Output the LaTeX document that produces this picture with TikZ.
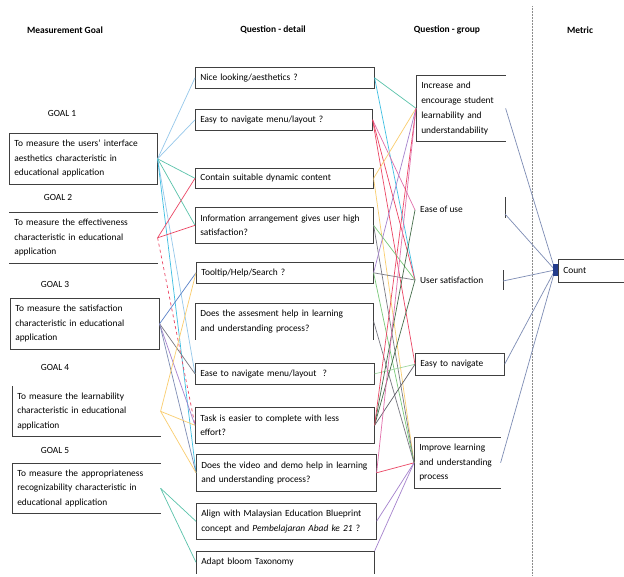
\documentclass[tikz,border=0pt]{standalone}
\usepackage{fontspec}
\setmainfont{Carlito}
\usetikzlibrary{calc}
\definecolor{clblue}{RGB}{150,200,235}
\definecolor{ccyan}{RGB}{60,190,225}
\definecolor{cteal}{RGB}{90,195,170}
\definecolor{cred}{RGB}{235,70,100}
\definecolor{cpink}{RGB}{225,110,170}
\definecolor{cyellow}{RGB}{250,205,110}
\definecolor{cpurple}{RGB}{165,130,205}
\definecolor{cgray}{RGB}{120,120,130}
\definecolor{cdgreen}{RGB}{70,110,75}
\definecolor{cgreen}{RGB}{120,200,120}
\definecolor{csteel}{RGB}{125,140,180}
\definecolor{cblue}{RGB}{90,130,200}
\definecolor{cmark}{RGB}{35,60,140}
\begin{document}
\begin{tikzpicture}[x=1pt,y=-1pt,
  hdr/.style={font=\bfseries\fontsize{9.5}{11}\selectfont, inner sep=0},
  lab/.style={font=\fontsize{9.4}{14}\selectfont, inner sep=0},
  gbox/.style={rectangle, anchor=north west, inner xsep=5pt, inner ysep=0pt,
    align=left, font=\fontsize{9.4}{14.5}\selectfont, line width=0.6pt, draw=black!75},
  nobox/.style={gbox, draw=none},
  edge/.style={line width=0.6pt, draw=black!75},
  con/.style={line width=0.7pt},
  met/.style={line width=0.7pt, draw=csteel},
  sep/.style={densely dotted, line width=0.5pt, draw=black!45}
]
\useasboundingbox (0,0) rectangle (624,576);
\fill[white] (0,0) rectangle (624,576);

% headers
\node[hdr] (h1) at (65,30) {Measurement Goal};
\node[hdr] (h2) at (273,30) {Question - detail};
\node[hdr] (h3) at (447,30) {Question - group};
\node[hdr] (h4) at (580,30) {Metric};
\coordinate (sepT) at (532,6);
\coordinate (sepB) at (532,576);
\draw[sep] (sepT) -- (sepB);

% goal labels
\node[lab] (l1) at (62,113) {GOAL 1};
\node[lab] (l2) at (58,197) {GOAL 2};
\node[lab] (l3) at (55,284) {GOAL 3};
\node[lab] (l4) at (55,367) {GOAL 4};
\node[lab] (l5) at (55,450) {GOAL 5};

% goal boxes
\node[gbox, minimum width=148, text width=138pt, minimum height=51] (g1) at (9,133)
  {To measure the users' interface\\aesthetics characteristic in\\educational application};
\node[nobox, minimum width=148, text width=138pt, minimum height=51] (g2) at (9,212)
  {To measure the effectiveness\\characteristic in educational\\application};
\draw[edge] (g2.north west) -- (g2.north east);
\draw[edge] (g2.south west) -- (g2.south east);
\node[gbox, minimum width=149, text width=139pt, minimum height=51] (g3) at (10,298)
  {To measure the satisfaction\\characteristic in educational\\application};
\node[nobox, minimum width=148, text width=138pt, minimum height=50] (g4) at (12,386)
  {To measure the learnability\\characteristic in educational\\application};
\draw[edge] (g4.north west) -- (g4.south west) -- (g4.south east);
\node[nobox, minimum width=148, text width=138pt, minimum height=50] (g5) at (12,463)
  {To measure the appropriateness\\recognizability characteristic in\\educational application};
\draw[edge] (g5.north east) -- (g5.north west) -- (g5.south west) -- (g5.south east);

% question detail boxes
\node[gbox, minimum width=179, text width=169pt, minimum height=21] (q1) at (195,67) {Nice looking/aesthetics ?};
\node[gbox, minimum width=177, text width=167pt, minimum height=21] (q2) at (195,109) {Easy to navigate menu/layout ?};
\node[gbox, minimum width=178, text width=168pt, minimum height=20] (q3) at (195,168) {Contain suitable dynamic content};
\node[gbox, minimum width=178, text width=168pt, minimum height=36] (q4) at (195,207) {Information arrangement gives user high\\satisfaction?};
\node[gbox, minimum width=177, text width=167pt, minimum height=21] (q5) at (196,262) {Tooltip/Help/Search ?};
\node[nobox, minimum width=178, text width=168pt, minimum height=36] (q6) at (195,303) {Does the assesment help in learning\\and understanding process?};
\draw[edge] (q6.south west) -- (q6.north west) -- (q6.north east) -- (q6.south east);
\node[gbox, minimum width=179, text width=169pt, minimum height=21] (q7) at (195,363) {Ease to navigate menu/layout\ \ ?};
\node[gbox, minimum width=179, text width=169pt, minimum height=36] (q8) at (195,407) {Task is easier to complete with less\\effort?};
\node[gbox, minimum width=180, text width=170pt, minimum height=37] (q9) at (196,454) {Does the video and demo help in learning\\and understanding process?};
\node[gbox, minimum width=180, text width=170pt, minimum height=36] (q10) at (196,503) {Align with Malaysian Education Blueprint\\concept and \textit{Pembelajaran Abad ke 21} ?};
\node[nobox, minimum width=178, text width=168pt, minimum height=22] (q11) at (196,551) {Adapt bloom Taxonomy};
\draw[edge] (q11.south west) -- (q11.north west) -- (q11.north east) -- (q11.south east);

% question group
\node[nobox, minimum width=89, text width=79pt, minimum height=66, font=\fontsize{9.4}{15}\selectfont] (G1) at (416,75)
  {Increase and\\encourage student\\learnability and\\understandability};
\draw[edge] (G1.north east) -- (G1.north west) -- (G1.south west) -- (G1.south east);
\node[lab, anchor=west] (G2) at (420,209) {Ease of use};
\coordinate (G2in) at (415,210);
\coordinate (G2t1) at (505,197);
\coordinate (G2t2) at (505,218);
\draw[edge] (G2t1) -- (G2t2);
\coordinate (G2out) at (505,214);
\node[lab, anchor=west] (G3) at (420,280) {User satisfaction};
\coordinate (G3in) at (415,280);
\coordinate (G3t1) at (503,270);
\coordinate (G3t2) at (503,290);
\draw[edge] (G3t1) -- (G3t2);
\coordinate (G3out) at (503,281);
\node[gbox, minimum width=89, text width=79pt, minimum height=22] (G4) at (415,353) {Easy to navigate};
\node[nobox, minimum width=86, text width=76pt, minimum height=51] (G5) at (414,437)
  {Improve learning\\and understanding\\process};
\draw[edge] (G5.north east) -- (G5.north west) -- (G5.south west) -- (G5.south east);

% metric
\node[nobox, minimum width=70, text width=60pt, minimum height=23] (cnt) at (558,259) {Count};
\draw[edge] (cnt.north east) -- (cnt.north west) -- (cnt.south west) -- (cnt.south east);

% goal -> question detail
\draw[con, clblue] (g1.east) -- (q1.west);
\draw[con, clblue] (g1.east) -- (q2.west);
\draw[con, cteal] (g1.east) -- (q3.west);
\draw[con, cteal] (g1.east) -- (q4.west);
\draw[con, clblue] (g1.east) -- (q7.west);
\draw[con, ccyan] (g1.east) -- (q9.west);
\draw[con, cred] (g2.east) -- (q3.west);
\draw[con, cred] (g2.east) -- (q4.west);
\draw[con, cred, dashed] (g2.east) -- (q8.west);
\draw[con, cblue] (g3.east) -- (q5.west);
\draw[con, cgray] (g3.east) -- (q7.west);
\draw[con, cpurple] (g3.east) -- (q8.west);
\draw[con, csteel] (g3.east) -- (q9.west);
\draw[con, cyellow] (g4.east) -- (q5.west);
\draw[con, cyellow] (g4.east) -- (q8.west);
\draw[con, cyellow] (g4.east) -- (q9.west);
\draw[con, cteal] (g5.east) -- (q10.west);
\draw[con, cteal] (g5.east) -- (q11.west);

% question detail -> question group
\draw[con, cteal] (q1.east) -- (G1.west);
\draw[con, ccyan] (q1.east) -- (G3in);
\draw[con, cpink] (q2.east) -- (G2in);
\draw[con, cred] (q2.east) -- (G3in);
\draw[con, cred] (q2.east) -- (G4.west);
\draw[con, cyellow] (q3.east) -- (G1.west);
\draw[con, cyellow] (q3.east) -- (G5.west);
\draw[con, cgreen] (q4.east) -- (G3in);
\draw[con, cgray] (q4.east) -- (G5.west);
\draw[con, cpurple] (q5.east) -- (G1.west);
\draw[con, cgray] (q5.east) -- (G3in);
\draw[con, cgreen] (q5.east) -- (G5.west);
\draw[con, cgray] (q6.east) -- (G5.west);
\draw[con, cgreen!70] (q7.east) -- (G4.west);
\draw[con, cdgreen] (q8.east) -- (G2in);
\draw[con, cdgreen] (q8.east) -- (G3in);
\draw[con, cgray!80!black] (q8.east) -- (G4.west);
\draw[con, cred] (q8.east) -- (G1.west);
\draw[con, cred] (q9.east) -- (G5.west);
\draw[con, cpink] (q9.east) -- (G1.west);
\draw[con, cpurple] (q10.east) -- (G5.west);
\draw[con, cpurple] (q11.north east) -- (G5.west);

% group -> metric
\coordinate (cin) at (555,270);
\draw[met] (G1.east) -- (cin);
\draw[met] (G2out) -- (cin);
\draw[met] (G3out) -- (cin);
\draw[met] (G4.east) -- (cin);
\draw[met] (G5.east) -- (cin);
\fill[cmark] (553,264) rectangle (558,276);
\end{tikzpicture}
\end{document}
